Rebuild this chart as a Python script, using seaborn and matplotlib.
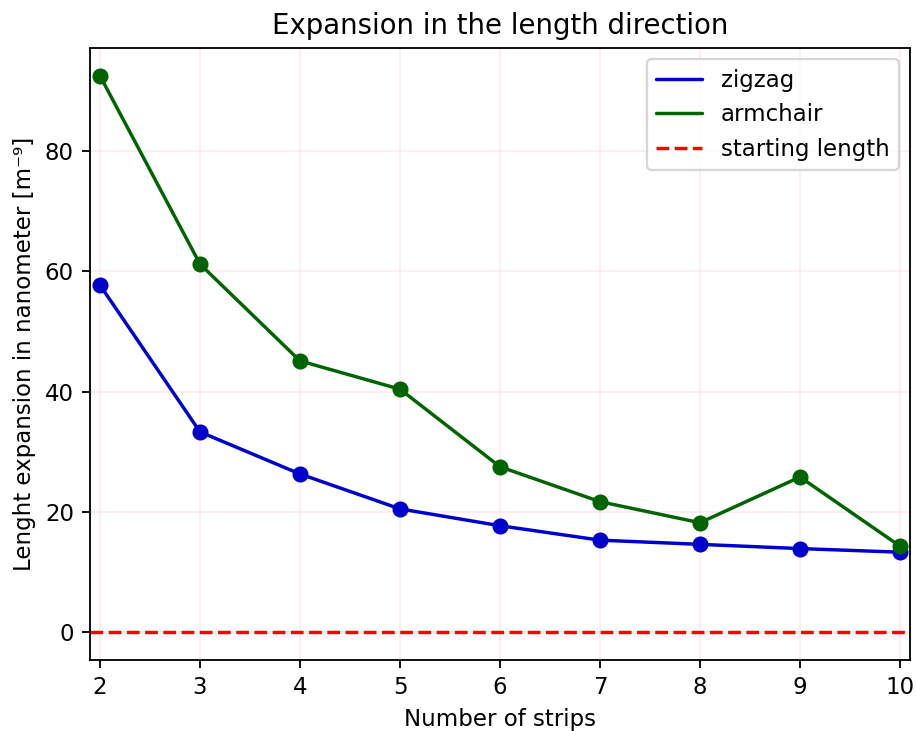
import numpy as np
import pandas as pd
import matplotlib
matplotlib.use("Agg")
import matplotlib.pyplot as plt
import seaborn as sns

strips = [2, 3, 4, 5, 6, 7, 8, 9, 10]
zigzag = [57.7, 33.3, 26.3, 20.5, 17.7, 15.3, 14.6, 13.9, 13.3]
armchair = [92.5, 61.2, 45.1, 40.4, 27.5, 21.7, 18.2, 25.8, 14.3]
start_length = 0.0

sns.set_style("ticks", rc={
    "text.color": "black",
    "axes.labelcolor": "black",
    "axes.edgecolor": "black",
    "xtick.color": "black",
    "ytick.color": "black",
})
plt.rcParams["font.family"] = ["DejaVu Sans"]

df = pd.DataFrame({"strips": strips, "zigzag": zigzag, "armchair": armchair})

DPI = 165
fig, ax = plt.subplots(figsize=(916 / DPI, 731 / DPI), dpi=DPI)
fig.subplots_adjust(left=90 / 916, right=910 / 916, top=1 - 48 / 731, bottom=1 - 660 / 731)

sns.lineplot(data=df, x="strips", y="zigzag", color="mediumblue", linewidth=1.5,
             label="zigzag", ax=ax)
sns.lineplot(data=df, x="strips", y="armchair", color="darkgreen", linewidth=1.5,
             label="armchair", ax=ax)
ax.axhline(start_length, color="red", linestyle="--", linewidth=1.5, label="starting length")
sns.scatterplot(data=df, x="strips", y="zigzag", color="mediumblue", s=36,
                edgecolor="mediumblue", linewidth=1, ax=ax, zorder=3, legend=False)
sns.scatterplot(data=df, x="strips", y="armchair", color="darkgreen", s=36,
                edgecolor="darkgreen", linewidth=1, ax=ax, zorder=3, legend=False)

ax.set_xlim(1.9, 10.1)
ax.set_xticks(strips)
ax.grid(True, color="pink", alpha=0.3, linewidth=0.8)
ax.set_axisbelow(True)

ax.set_title("Expansion in the length direction", fontsize=12)
ax.set_xlabel("Number of strips", fontsize=10)
ax.set_ylabel("Lenght expansion in nanometer [m\u207b\u2079]", fontsize=10)
ax.tick_params(labelsize=10, length=3.5, width=0.8)
for s in ax.spines.values():
    s.set_linewidth(0.8)

leg = ax.legend(loc="upper right", fontsize=10)
leg.get_frame().set_edgecolor("0.8")

fig.savefig("out.png", dpi=DPI)
